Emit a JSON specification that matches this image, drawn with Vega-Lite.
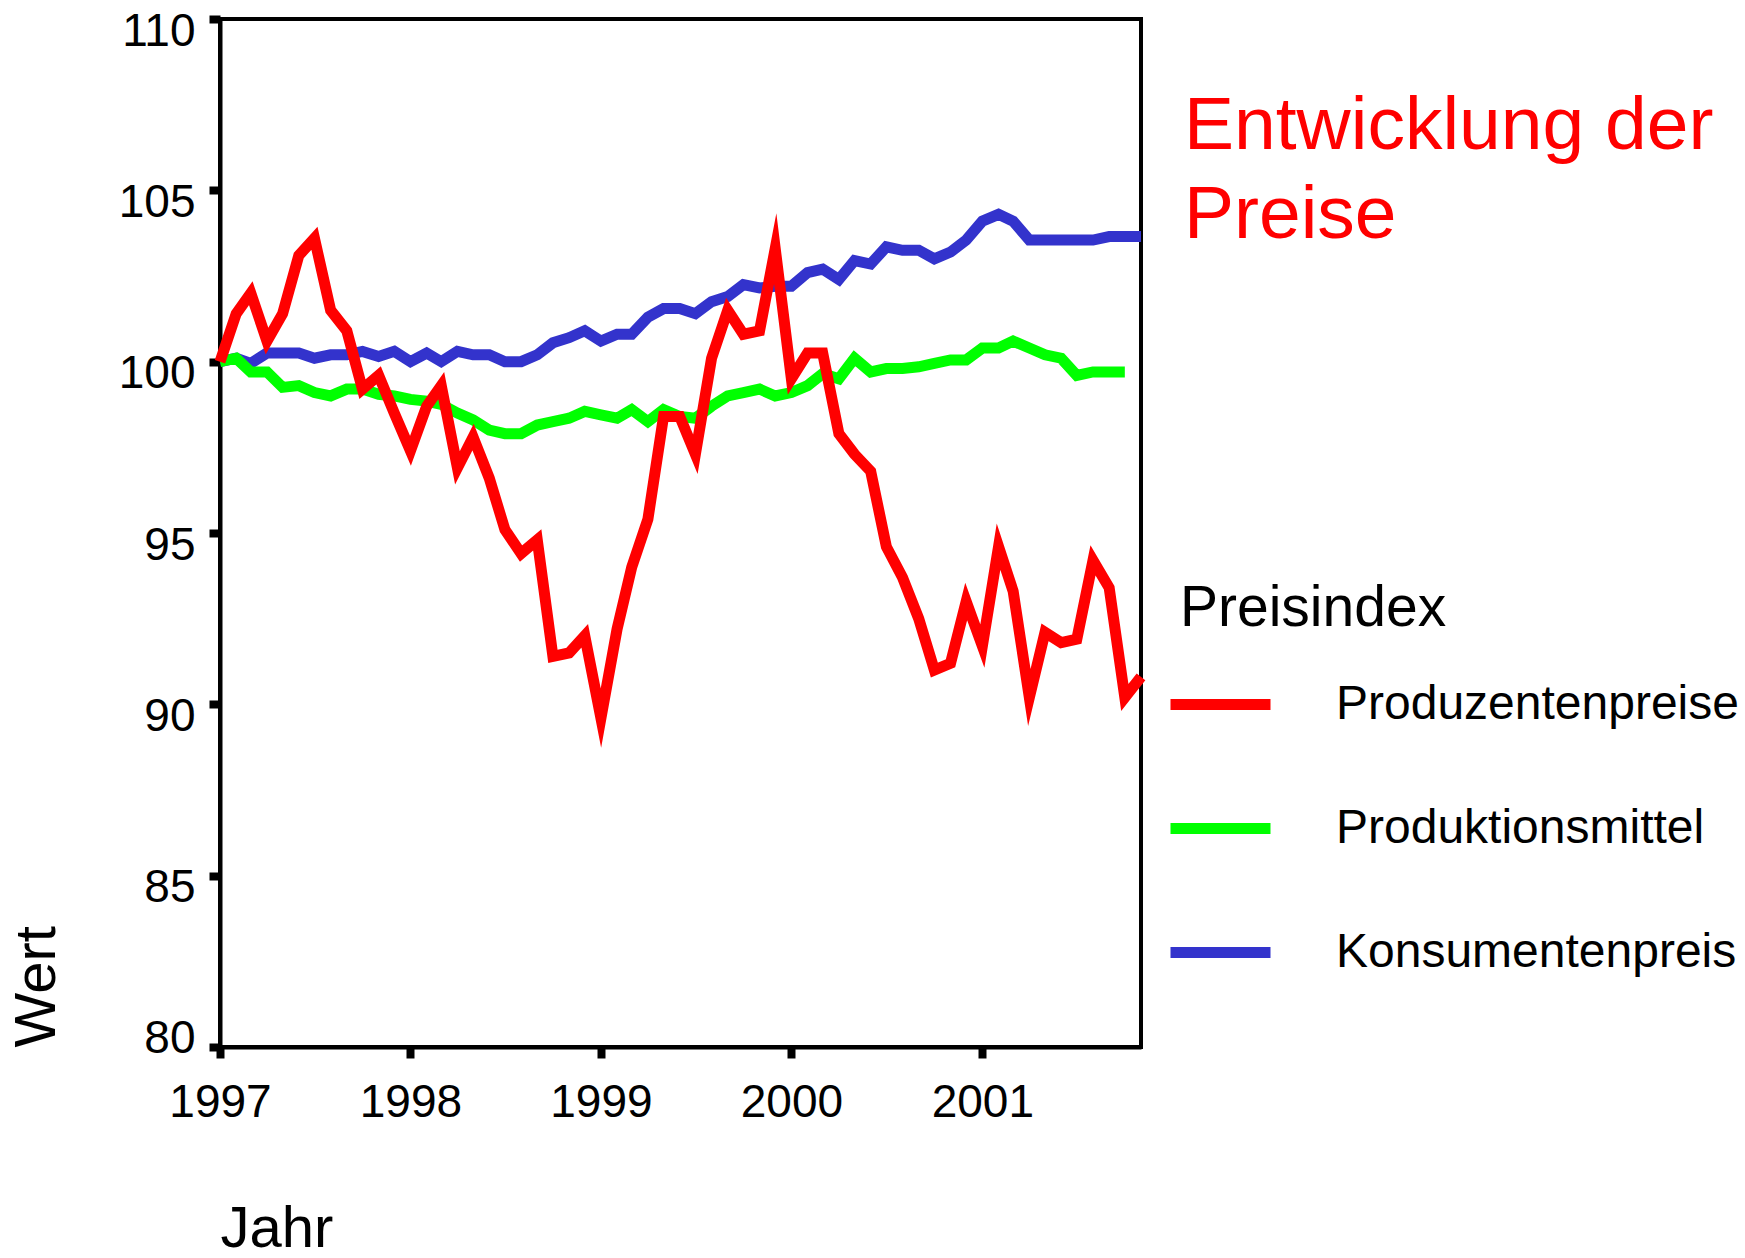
{
"$schema": "https://vega.github.io/schema/vega-lite/v6.json",
"width": 921,
"height": 1028,
"autosize": "none",
"padding": {"left": 220, "top": 19, "right": 604, "bottom": 211},
"background": "white",
"config": {"font": "Liberation Sans", "view": {"stroke": "black", "strokeWidth": 4}},
"title": {"text": ["Entwicklung der", "Preise"], "color": "#ff0000", "fontSize": 75, "font": "Liberation Sans", "fontWeight": "normal", "anchor": "start", "frame": "group", "orient": "top", "baseline": "top", "offset": 0, "dx": 964, "dy": 246, "lineHeight": 89, "limit": 700},
"data": {"values": [
{"Datum":"1997-01-01","Preisindex":"Konsumentenpreis","Wert":100.0},
{"Datum":"1997-02-01","Preisindex":"Konsumentenpreis","Wert":100.1},
{"Datum":"1997-03-01","Preisindex":"Konsumentenpreis","Wert":99.95},
{"Datum":"1997-04-01","Preisindex":"Konsumentenpreis","Wert":100.25},
{"Datum":"1997-05-01","Preisindex":"Konsumentenpreis","Wert":100.25},
{"Datum":"1997-06-01","Preisindex":"Konsumentenpreis","Wert":100.25},
{"Datum":"1997-07-01","Preisindex":"Konsumentenpreis","Wert":100.1},
{"Datum":"1997-08-01","Preisindex":"Konsumentenpreis","Wert":100.2},
{"Datum":"1997-09-01","Preisindex":"Konsumentenpreis","Wert":100.2},
{"Datum":"1997-10-01","Preisindex":"Konsumentenpreis","Wert":100.3},
{"Datum":"1997-11-01","Preisindex":"Konsumentenpreis","Wert":100.15},
{"Datum":"1997-12-01","Preisindex":"Konsumentenpreis","Wert":100.3},
{"Datum":"1998-01-01","Preisindex":"Konsumentenpreis","Wert":100.0},
{"Datum":"1998-02-01","Preisindex":"Konsumentenpreis","Wert":100.25},
{"Datum":"1998-03-01","Preisindex":"Konsumentenpreis","Wert":100.0},
{"Datum":"1998-04-01","Preisindex":"Konsumentenpreis","Wert":100.3},
{"Datum":"1998-05-01","Preisindex":"Konsumentenpreis","Wert":100.2},
{"Datum":"1998-06-01","Preisindex":"Konsumentenpreis","Wert":100.2},
{"Datum":"1998-07-01","Preisindex":"Konsumentenpreis","Wert":100.0},
{"Datum":"1998-08-01","Preisindex":"Konsumentenpreis","Wert":100.0},
{"Datum":"1998-09-01","Preisindex":"Konsumentenpreis","Wert":100.2},
{"Datum":"1998-10-01","Preisindex":"Konsumentenpreis","Wert":100.55},
{"Datum":"1998-11-01","Preisindex":"Konsumentenpreis","Wert":100.7},
{"Datum":"1998-12-01","Preisindex":"Konsumentenpreis","Wert":100.9},
{"Datum":"1999-01-01","Preisindex":"Konsumentenpreis","Wert":100.6},
{"Datum":"1999-02-01","Preisindex":"Konsumentenpreis","Wert":100.8},
{"Datum":"1999-03-01","Preisindex":"Konsumentenpreis","Wert":100.8},
{"Datum":"1999-04-01","Preisindex":"Konsumentenpreis","Wert":101.3},
{"Datum":"1999-05-01","Preisindex":"Konsumentenpreis","Wert":101.55},
{"Datum":"1999-06-01","Preisindex":"Konsumentenpreis","Wert":101.55},
{"Datum":"1999-07-01","Preisindex":"Konsumentenpreis","Wert":101.4},
{"Datum":"1999-08-01","Preisindex":"Konsumentenpreis","Wert":101.75},
{"Datum":"1999-09-01","Preisindex":"Konsumentenpreis","Wert":101.9},
{"Datum":"1999-10-01","Preisindex":"Konsumentenpreis","Wert":102.25},
{"Datum":"1999-11-01","Preisindex":"Konsumentenpreis","Wert":102.15},
{"Datum":"1999-12-01","Preisindex":"Konsumentenpreis","Wert":102.2},
{"Datum":"2000-01-01","Preisindex":"Konsumentenpreis","Wert":102.2},
{"Datum":"2000-02-01","Preisindex":"Konsumentenpreis","Wert":102.6},
{"Datum":"2000-03-01","Preisindex":"Konsumentenpreis","Wert":102.7},
{"Datum":"2000-04-01","Preisindex":"Konsumentenpreis","Wert":102.4},
{"Datum":"2000-05-01","Preisindex":"Konsumentenpreis","Wert":102.95},
{"Datum":"2000-06-01","Preisindex":"Konsumentenpreis","Wert":102.85},
{"Datum":"2000-07-01","Preisindex":"Konsumentenpreis","Wert":103.35},
{"Datum":"2000-08-01","Preisindex":"Konsumentenpreis","Wert":103.25},
{"Datum":"2000-09-01","Preisindex":"Konsumentenpreis","Wert":103.25},
{"Datum":"2000-10-01","Preisindex":"Konsumentenpreis","Wert":103.0},
{"Datum":"2000-11-01","Preisindex":"Konsumentenpreis","Wert":103.2},
{"Datum":"2000-12-01","Preisindex":"Konsumentenpreis","Wert":103.55},
{"Datum":"2001-01-01","Preisindex":"Konsumentenpreis","Wert":104.1},
{"Datum":"2001-02-01","Preisindex":"Konsumentenpreis","Wert":104.3},
{"Datum":"2001-03-01","Preisindex":"Konsumentenpreis","Wert":104.1},
{"Datum":"2001-04-01","Preisindex":"Konsumentenpreis","Wert":103.55},
{"Datum":"2001-05-01","Preisindex":"Konsumentenpreis","Wert":103.55},
{"Datum":"2001-06-01","Preisindex":"Konsumentenpreis","Wert":103.55},
{"Datum":"2001-07-01","Preisindex":"Konsumentenpreis","Wert":103.55},
{"Datum":"2001-08-01","Preisindex":"Konsumentenpreis","Wert":103.55},
{"Datum":"2001-09-01","Preisindex":"Konsumentenpreis","Wert":103.65},
{"Datum":"2001-10-01","Preisindex":"Konsumentenpreis","Wert":103.65},
{"Datum":"2001-11-01","Preisindex":"Konsumentenpreis","Wert":103.65},
{"Datum":"1997-01-01","Preisindex":"Produktionsmittel","Wert":100.0},
{"Datum":"1997-02-01","Preisindex":"Produktionsmittel","Wert":100.1},
{"Datum":"1997-03-01","Preisindex":"Produktionsmittel","Wert":99.7},
{"Datum":"1997-04-01","Preisindex":"Produktionsmittel","Wert":99.7},
{"Datum":"1997-05-01","Preisindex":"Produktionsmittel","Wert":99.25},
{"Datum":"1997-06-01","Preisindex":"Produktionsmittel","Wert":99.3},
{"Datum":"1997-07-01","Preisindex":"Produktionsmittel","Wert":99.1},
{"Datum":"1997-08-01","Preisindex":"Produktionsmittel","Wert":99.0},
{"Datum":"1997-09-01","Preisindex":"Produktionsmittel","Wert":99.2},
{"Datum":"1997-10-01","Preisindex":"Produktionsmittel","Wert":99.2},
{"Datum":"1997-11-01","Preisindex":"Produktionsmittel","Wert":99.05},
{"Datum":"1997-12-01","Preisindex":"Produktionsmittel","Wert":99.0},
{"Datum":"1998-01-01","Preisindex":"Produktionsmittel","Wert":98.9},
{"Datum":"1998-02-01","Preisindex":"Produktionsmittel","Wert":98.85},
{"Datum":"1998-03-01","Preisindex":"Produktionsmittel","Wert":98.75},
{"Datum":"1998-04-01","Preisindex":"Produktionsmittel","Wert":98.5},
{"Datum":"1998-05-01","Preisindex":"Produktionsmittel","Wert":98.3},
{"Datum":"1998-06-01","Preisindex":"Produktionsmittel","Wert":98.0},
{"Datum":"1998-07-01","Preisindex":"Produktionsmittel","Wert":97.9},
{"Datum":"1998-08-01","Preisindex":"Produktionsmittel","Wert":97.9},
{"Datum":"1998-09-01","Preisindex":"Produktionsmittel","Wert":98.15},
{"Datum":"1998-10-01","Preisindex":"Produktionsmittel","Wert":98.25},
{"Datum":"1998-11-01","Preisindex":"Produktionsmittel","Wert":98.35},
{"Datum":"1998-12-01","Preisindex":"Produktionsmittel","Wert":98.55},
{"Datum":"1999-01-01","Preisindex":"Produktionsmittel","Wert":98.45},
{"Datum":"1999-02-01","Preisindex":"Produktionsmittel","Wert":98.35},
{"Datum":"1999-03-01","Preisindex":"Produktionsmittel","Wert":98.6},
{"Datum":"1999-04-01","Preisindex":"Produktionsmittel","Wert":98.25},
{"Datum":"1999-05-01","Preisindex":"Produktionsmittel","Wert":98.6},
{"Datum":"1999-06-01","Preisindex":"Produktionsmittel","Wert":98.4},
{"Datum":"1999-07-01","Preisindex":"Produktionsmittel","Wert":98.35},
{"Datum":"1999-08-01","Preisindex":"Produktionsmittel","Wert":98.7},
{"Datum":"1999-09-01","Preisindex":"Produktionsmittel","Wert":99.0},
{"Datum":"1999-10-01","Preisindex":"Produktionsmittel","Wert":99.1},
{"Datum":"1999-11-01","Preisindex":"Produktionsmittel","Wert":99.2},
{"Datum":"1999-12-01","Preisindex":"Produktionsmittel","Wert":99.0},
{"Datum":"2000-01-01","Preisindex":"Produktionsmittel","Wert":99.1},
{"Datum":"2000-02-01","Preisindex":"Produktionsmittel","Wert":99.3},
{"Datum":"2000-03-01","Preisindex":"Produktionsmittel","Wert":99.65},
{"Datum":"2000-04-01","Preisindex":"Produktionsmittel","Wert":99.5},
{"Datum":"2000-05-01","Preisindex":"Produktionsmittel","Wert":100.1},
{"Datum":"2000-06-01","Preisindex":"Produktionsmittel","Wert":99.7},
{"Datum":"2000-07-01","Preisindex":"Produktionsmittel","Wert":99.8},
{"Datum":"2000-08-01","Preisindex":"Produktionsmittel","Wert":99.8},
{"Datum":"2000-09-01","Preisindex":"Produktionsmittel","Wert":99.85},
{"Datum":"2000-10-01","Preisindex":"Produktionsmittel","Wert":99.95},
{"Datum":"2000-11-01","Preisindex":"Produktionsmittel","Wert":100.05},
{"Datum":"2000-12-01","Preisindex":"Produktionsmittel","Wert":100.05},
{"Datum":"2001-01-01","Preisindex":"Produktionsmittel","Wert":100.4},
{"Datum":"2001-02-01","Preisindex":"Produktionsmittel","Wert":100.4},
{"Datum":"2001-03-01","Preisindex":"Produktionsmittel","Wert":100.6},
{"Datum":"2001-04-01","Preisindex":"Produktionsmittel","Wert":100.4},
{"Datum":"2001-05-01","Preisindex":"Produktionsmittel","Wert":100.2},
{"Datum":"2001-06-01","Preisindex":"Produktionsmittel","Wert":100.1},
{"Datum":"2001-07-01","Preisindex":"Produktionsmittel","Wert":99.6},
{"Datum":"2001-08-01","Preisindex":"Produktionsmittel","Wert":99.7},
{"Datum":"2001-09-01","Preisindex":"Produktionsmittel","Wert":99.7},
{"Datum":"2001-10-01","Preisindex":"Produktionsmittel","Wert":99.7},
{"Datum":"1997-01-01","Preisindex":"Produzentenpreise","Wert":100.0},
{"Datum":"1997-02-01","Preisindex":"Produzentenpreise","Wert":101.4},
{"Datum":"1997-03-01","Preisindex":"Produzentenpreise","Wert":102.0},
{"Datum":"1997-04-01","Preisindex":"Produzentenpreise","Wert":100.6},
{"Datum":"1997-05-01","Preisindex":"Produzentenpreise","Wert":101.4},
{"Datum":"1997-06-01","Preisindex":"Produzentenpreise","Wert":103.1},
{"Datum":"1997-07-01","Preisindex":"Produzentenpreise","Wert":103.6},
{"Datum":"1997-08-01","Preisindex":"Produzentenpreise","Wert":101.5},
{"Datum":"1997-09-01","Preisindex":"Produzentenpreise","Wert":100.9},
{"Datum":"1997-10-01","Preisindex":"Produzentenpreise","Wert":99.2},
{"Datum":"1997-11-01","Preisindex":"Produzentenpreise","Wert":99.6},
{"Datum":"1997-12-01","Preisindex":"Produzentenpreise","Wert":98.5},
{"Datum":"1998-01-01","Preisindex":"Produzentenpreise","Wert":97.4},
{"Datum":"1998-02-01","Preisindex":"Produzentenpreise","Wert":98.7},
{"Datum":"1998-03-01","Preisindex":"Produzentenpreise","Wert":99.3},
{"Datum":"1998-04-01","Preisindex":"Produzentenpreise","Wert":96.9},
{"Datum":"1998-05-01","Preisindex":"Produzentenpreise","Wert":97.8},
{"Datum":"1998-06-01","Preisindex":"Produzentenpreise","Wert":96.6},
{"Datum":"1998-07-01","Preisindex":"Produzentenpreise","Wert":95.1},
{"Datum":"1998-08-01","Preisindex":"Produzentenpreise","Wert":94.4},
{"Datum":"1998-09-01","Preisindex":"Produzentenpreise","Wert":94.8},
{"Datum":"1998-10-01","Preisindex":"Produzentenpreise","Wert":91.4},
{"Datum":"1998-11-01","Preisindex":"Produzentenpreise","Wert":91.5},
{"Datum":"1998-12-01","Preisindex":"Produzentenpreise","Wert":92.0},
{"Datum":"1999-01-01","Preisindex":"Produzentenpreise","Wert":89.6},
{"Datum":"1999-02-01","Preisindex":"Produzentenpreise","Wert":92.2},
{"Datum":"1999-03-01","Preisindex":"Produzentenpreise","Wert":94.0},
{"Datum":"1999-04-01","Preisindex":"Produzentenpreise","Wert":95.4},
{"Datum":"1999-05-01","Preisindex":"Produzentenpreise","Wert":98.4},
{"Datum":"1999-06-01","Preisindex":"Produzentenpreise","Wert":98.4},
{"Datum":"1999-07-01","Preisindex":"Produzentenpreise","Wert":97.3},
{"Datum":"1999-08-01","Preisindex":"Produzentenpreise","Wert":100.1},
{"Datum":"1999-09-01","Preisindex":"Produzentenpreise","Wert":101.5},
{"Datum":"1999-10-01","Preisindex":"Produzentenpreise","Wert":100.8},
{"Datum":"1999-11-01","Preisindex":"Produzentenpreise","Wert":100.9},
{"Datum":"1999-12-01","Preisindex":"Produzentenpreise","Wert":103.3},
{"Datum":"2000-01-01","Preisindex":"Produzentenpreise","Wert":99.5},
{"Datum":"2000-02-01","Preisindex":"Produzentenpreise","Wert":100.25},
{"Datum":"2000-03-01","Preisindex":"Produzentenpreise","Wert":100.25},
{"Datum":"2000-04-01","Preisindex":"Produzentenpreise","Wert":97.9},
{"Datum":"2000-05-01","Preisindex":"Produzentenpreise","Wert":97.3},
{"Datum":"2000-06-01","Preisindex":"Produzentenpreise","Wert":96.8},
{"Datum":"2000-07-01","Preisindex":"Produzentenpreise","Wert":94.6},
{"Datum":"2000-08-01","Preisindex":"Produzentenpreise","Wert":93.7},
{"Datum":"2000-09-01","Preisindex":"Produzentenpreise","Wert":92.5},
{"Datum":"2000-10-01","Preisindex":"Produzentenpreise","Wert":91.0},
{"Datum":"2000-11-01","Preisindex":"Produzentenpreise","Wert":91.2},
{"Datum":"2000-12-01","Preisindex":"Produzentenpreise","Wert":93.0},
{"Datum":"2001-01-01","Preisindex":"Produzentenpreise","Wert":91.7},
{"Datum":"2001-02-01","Preisindex":"Produzentenpreise","Wert":94.6},
{"Datum":"2001-03-01","Preisindex":"Produzentenpreise","Wert":93.3},
{"Datum":"2001-04-01","Preisindex":"Produzentenpreise","Wert":90.2},
{"Datum":"2001-05-01","Preisindex":"Produzentenpreise","Wert":92.1},
{"Datum":"2001-06-01","Preisindex":"Produzentenpreise","Wert":91.8},
{"Datum":"2001-07-01","Preisindex":"Produzentenpreise","Wert":91.9},
{"Datum":"2001-08-01","Preisindex":"Produzentenpreise","Wert":94.2},
{"Datum":"2001-09-01","Preisindex":"Produzentenpreise","Wert":93.4},
{"Datum":"2001-10-01","Preisindex":"Produzentenpreise","Wert":90.2},
{"Datum":"2001-11-01","Preisindex":"Produzentenpreise","Wert":90.8}
]},
"mark": {"type": "line", "strokeWidth": 11, "strokeMiterLimit": 10, "strokeCap": "butt", "strokeJoin": "miter"},
"encoding": {
  "x": {"field": "Datum", "type": "temporal",
    "scale": {"type": "utc", "domain": [{"year": 1997, "month": 1, "date": 1, "utc": true}, {"year": 2001, "month": 11, "date": 1, "utc": true}]},
    "axis": {"title": "Jahr", "values": [{"year": 1997, "month": 1, "date": 1, "utc": true}, {"year": 1998, "month": 1, "date": 1, "utc": true}, {"year": 1999, "month": 1, "date": 1, "utc": true}, {"year": 2000, "month": 1, "date": 1, "utc": true}, {"year": 2001, "month": 1, "date": 1, "utc": true}],
      "labelExpr": "utcFormat(datum.value, '%Y')", "grid": false,
      "domainColor": "black", "domainWidth": 4, "tickColor": "black", "tickSize": 11, "tickWidth": 8,
      "labelFont": "Liberation Sans", "labelFontSize": 46, "labelColor": "black", "labelPadding": 22, "labelFlush": false, "labelOverlap": false,
      "titleFont": "Liberation Sans", "titleFontSize": 58, "titleFontWeight": "normal", "titleColor": "black",
      "titleX": 0, "titleY": 199, "titleAlign": "left", "titleBaseline": "alphabetic"}},
  "y": {"field": "Wert", "type": "quantitative",
    "scale": {"domain": [80, 110], "nice": false, "zero": false},
    "axis": {"title": "Wert", "values": [80, 85, 90, 95, 100, 105, 110], "grid": false,
      "domainColor": "black", "domainWidth": 4, "tickColor": "black", "tickSize": 11, "tickWidth": 8,
      "labelFont": "Liberation Sans", "labelFontSize": 46, "labelColor": "black", "labelPadding": 14, "labelFlush": false, "labelOverlap": false,
      "labelOffset": {"condition": {"test": "datum.value == 80", "value": -9}, "value": 12},
      "titleFont": "Liberation Sans", "titleFontSize": 58, "titleFontWeight": "normal", "titleColor": "black",
      "titleX": -166, "titleY": 1028, "titleAngle": 270, "titleAlign": "left", "titleBaseline": "alphabetic"}},
  "color": {"field": "Preisindex", "type": "nominal",
    "scale": {"domain": ["Produzentenpreise", "Produktionsmittel", "Konsumentenpreis"], "range": ["#ff0000", "#00ff00", "#3333cc"]},
    "legend": {"orient": "none", "direction": "vertical", "legendX": 960, "legendY": 562, "padding": 0,
      "title": "Preisindex", "titleFont": "Liberation Sans", "titleFontSize": 57, "titleFontWeight": "normal", "titleColor": "black", "titlePadding": 11, "titleLimit": 700,
      "symbolType": "stroke", "symbolSize": 10000, "symbolStrokeWidth": 11, "symbolOffset": -15,
      "labelFont": "Liberation Sans", "labelFontSize": 48, "labelColor": "black", "labelOffset": 60, "labelLimit": 700, "rowPadding": 44}}
}
}
